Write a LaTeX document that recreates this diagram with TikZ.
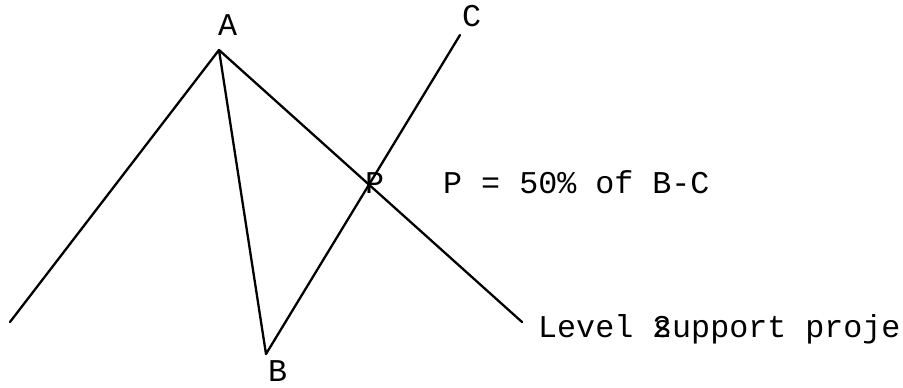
\documentclass[tikz,border=0pt]{standalone}
\usepackage{fontspec}
\setmainfont{Liberation Mono}
\begin{document}
\begin{tikzpicture}[x=1pt,y=-1pt,
  lbl/.style={inner sep=0pt,anchor=base west,font=\fontsize{31.7}{36}\selectfont},
  wave/.style={line width=2.3pt,line cap=round,line join=round}]
\useasboundingbox (0,0) rectangle (903,388);
\coordinate (S) at (10,322);
\coordinate (A) at (219,50);
\coordinate (B) at (266,354);
\coordinate (C) at (460,35);
\coordinate (E) at (522,322);
\draw[wave] (S) -- (A) -- (B) -- (C);
\draw[wave] (A) -- (E);
\node[lbl] (la) at (218,35) {A};
\node[lbl] (lc) at (462,27) {C};
\node[lbl] (lb) at (268,381) {B};
\node[lbl] (lp) at (365,193) {P};
\node[lbl] (lpc) at (443,193) {P = 50\% of B-C};
\node[lbl] (ll) at (538,337) {Level 2};
\node[lbl] (ls) at (653,337) {support proje};
\end{tikzpicture}
\end{document}
